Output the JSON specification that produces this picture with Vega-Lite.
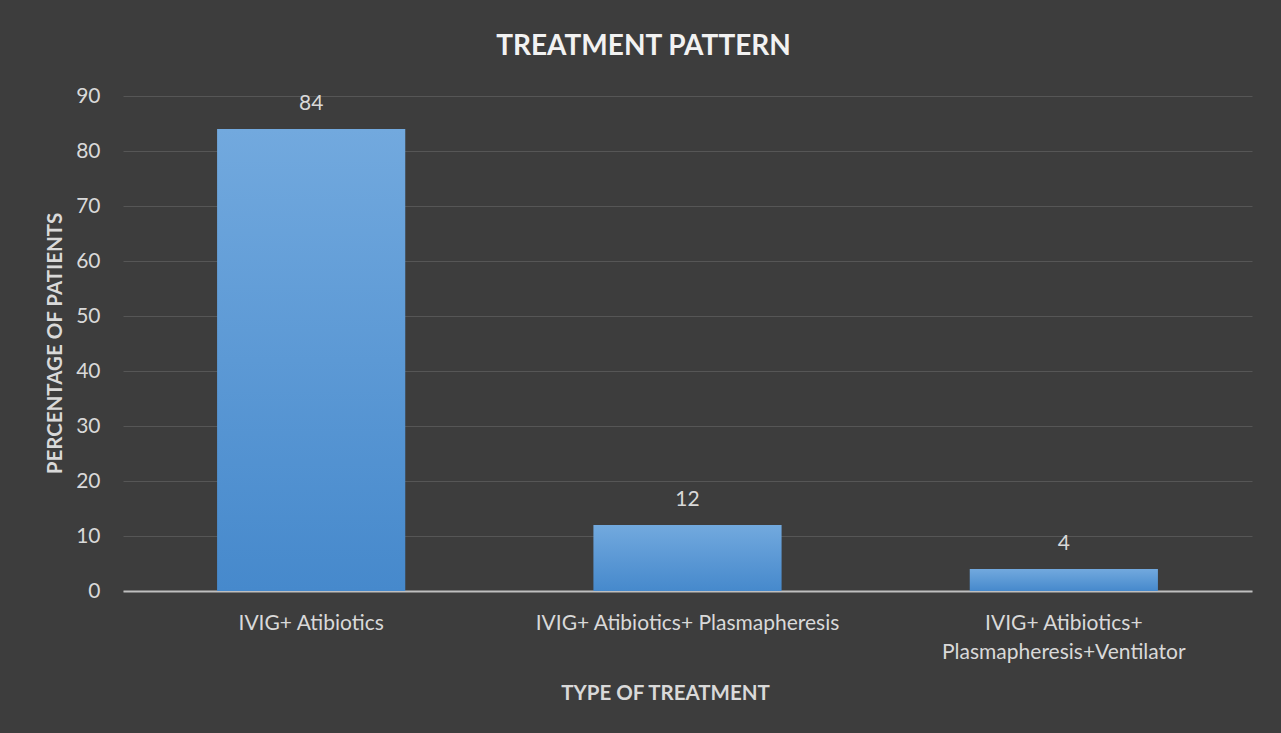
{
  "$schema": "https://vega.github.io/schema/vega-lite/v6.json",
  "width": 1129,
  "height": 495,
  "autosize": "none",
  "padding": {"left": 123, "top": 96, "right": 29, "bottom": 142},
  "background": "#3d3d3d",
  "title": {
    "text": "TREATMENT PATTERN",
    "font": "Lato",
    "fontSize": 28,
    "fontWeight": "bold",
    "color": "#f2f2f2",
    "anchor": "middle",
    "frame": "group",
    "dx": -44,
    "offset": 24
  },
  "data": {
    "values": [
      {"treatment": "IVIG+ Atibiotics", "percent": 84},
      {"treatment": "IVIG+ Atibiotics+ Plasmapheresis", "percent": 12},
      {"treatment": "IVIG+ Atibiotics+ Plasmapheresis+Ventilator", "percent": 4}
    ]
  },
  "encoding": {
    "x": {
      "field": "treatment",
      "type": "nominal",
      "sort": null,
      "scale": {"paddingInner": 0.5, "paddingOuter": 0.25},
      "axis": {
        "title": "TYPE OF TREATMENT",
        "titleFont": "Lato",
        "titleFontSize": 20.5,
        "titleFontWeight": "bold",
        "titleColor": "#d9d9d9",
        "titleX": 542,
        "titleY": 102,
        "titleBaseline": "middle",
        "labelAngle": 0,
        "labelFont": "Lato",
        "labelFontSize": 21,
        "labelColor": "#d9d9d9",
        "labelPadding": 21,
        "labelLineHeight": 29,
        "labelLimit": 400,
        "labelExpr": "datum.label == 'IVIG+ Atibiotics+ Plasmapheresis+Ventilator' ? ['IVIG+ Atibiotics+', 'Plasmapheresis+Ventilator'] : datum.label",
        "ticks": false,
        "domainColor": "#bfbfbf",
        "domainWidth": 2
      }
    },
    "y": {
      "field": "percent",
      "type": "quantitative",
      "scale": {"domain": [0, 90], "nice": false},
      "axis": {
        "values": [0, 10, 20, 30, 40, 50, 60, 70, 80, 90],
        "title": "PERCENTAGE OF PATIENTS",
        "titleFont": "Lato",
        "titleFontSize": 20.5,
        "titleFontWeight": "bold",
        "titleColor": "#d9d9d9",
        "titleX": -68,
        "titleY": 247,
        "titleAngle": -90,
        "titleBaseline": "middle",
        "titleAlign": "center",
        "labelFont": "Lato",
        "labelFontSize": 21,
        "labelColor": "#d9d9d9",
        "labelPadding": 23,
        "ticks": false,
        "domain": false,
        "grid": true,
        "gridColor": "#565656",
        "gridWidth": 1
      }
    }
  },
  "layer": [
    {
      "mark": {
        "type": "bar",
        "color": {
          "gradient": "linear",
          "x1": 0, "y1": 0, "x2": 0, "y2": 1,
          "stops": [
            {"offset": 0, "color": "#72a9de"},
            {"offset": 1, "color": "#4689cc"}
          ]
        }
      }
    },
    {
      "mark": {
        "type": "text",
        "font": "Lato",
        "fontSize": 21,
        "color": "#d9d9d9",
        "baseline": "bottom",
        "dy": -15
      },
      "encoding": {"text": {"field": "percent", "type": "quantitative"}}
    }
  ],
  "config": {"view": {"stroke": null}}
}
